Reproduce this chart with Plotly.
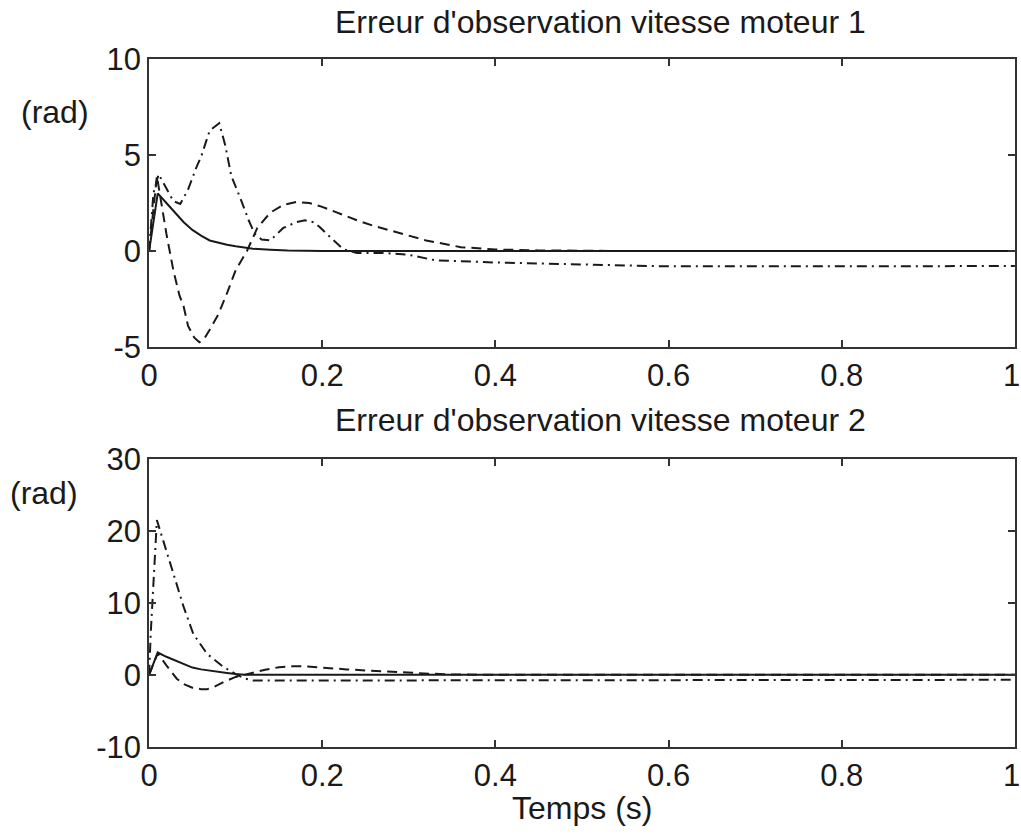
import plotly.graph_objects as go

# ---------------- data ----------------
# Top panel: motor 1 speed observation error
t1_solid = [0, 0.01, 0.02, 0.03, 0.04, 0.05, 0.06, 0.07, 0.08, 0.09, 0.10, 0.12, 0.14, 0.16, 0.20, 1.0]
y1_solid = [0, 3.0, 2.5, 2.0, 1.5, 1.1, 0.8, 0.55, 0.42, 0.33, 0.25, 0.12, 0.06, 0.02, 0.0, 0.0]

t1_dash = [0, 0.009, 0.02, 0.028, 0.035, 0.04, 0.045, 0.052, 0.058, 0.064, 0.07, 0.08, 0.09, 0.10,
           0.113, 0.125, 0.14, 0.155, 0.17, 0.185, 0.20, 0.22, 0.24, 0.26, 0.28, 0.30, 0.32, 0.34,
           0.36, 0.40, 0.45, 0.55, 0.65, 1.0]
y1_dash = [0, 3.9, 0.9, -1.0, -2.3, -2.9, -3.9, -4.5, -4.75, -4.55, -4.1, -3.3, -2.2, -1.0,
           0.0, 1.2, 2.0, 2.4, 2.55, 2.5, 2.3, 1.95, 1.6, 1.3, 1.05, 0.8, 0.55, 0.38,
           0.2, 0.08, 0.03, 0.0, 0.0, 0.0]

t1_dashdot = [0, 0.005, 0.011, 0.02, 0.028, 0.036, 0.045, 0.055, 0.06, 0.07, 0.081, 0.088, 0.095,
              0.105, 0.115, 0.122, 0.13, 0.14, 0.155, 0.17, 0.18, 0.19, 0.197, 0.205, 0.213,
              0.224, 0.24, 0.27, 0.30, 0.33, 0.40, 0.50, 0.60, 0.80, 1.0]
y1_dashdot = [0, 3.0, 4.0, 3.3, 2.6, 2.45, 3.2, 4.4, 4.9, 6.27, 6.65, 5.5, 3.9,
              2.8, 1.6, 0.9, 0.6, 0.55, 1.2, 1.5, 1.6, 1.5, 1.25, 0.9, 0.55,
              0.1, -0.1, -0.1, -0.2, -0.48, -0.6, -0.7, -0.8, -0.8, -0.78]

# Bottom panel: motor 2 speed observation error
t2_solid = [0, 0.01, 0.02, 0.03, 0.04, 0.05, 0.06, 0.07, 0.08, 0.09, 0.10, 0.11, 1.0]
y2_solid = [0, 3.1, 2.5, 2.0, 1.5, 1.0, 0.75, 0.55, 0.4, 0.25, 0.1, 0.0, 0.0]

t2_dash = [0, 0.01, 0.02, 0.032, 0.04, 0.05, 0.06, 0.067, 0.075, 0.086, 0.10, 0.115, 0.134,
           0.15, 0.165, 0.18, 0.205, 0.228, 0.25, 0.274, 0.30, 0.325, 0.35, 0.40, 1.0]
y2_dash = [0, 3.0, 1.3, -0.55, -1.3, -1.8, -2.0, -2.0, -1.7, -1.0, -0.3, 0.15, 0.7,
           1.05, 1.17, 1.17, 0.9, 0.75, 0.6, 0.45, 0.25, 0.15, 0.05, 0.0, 0.0]

t2_dashdot = [0, 0.002, 0.009, 0.0165, 0.028, 0.04, 0.051, 0.067, 0.086, 0.10, 0.11, 0.12,
              0.40, 0.70, 1.0]
y2_dashdot = [0, 6.0, 21.5, 18.7, 14.1, 9.4, 5.7, 2.9, 1.07, 0.1, -0.5, -0.8,
              -0.8, -0.75, -0.7]

x_tickvals = [0, 0.2, 0.4, 0.6, 0.8, 1]
x_ticktext = ["0", "0.2", "0.4", "0.6", "0.8", "1"]
y1_tickvals = [-5, 0, 5, 10]
y1_ticktext = ["-5", "0", "5", "10"]
y2_tickvals = [-10, 0, 10, 20, 30]
y2_ticktext = ["-10", "0", "10", "20", "30"]

title1 = "Erreur d'observation vitesse moteur 1"
title2 = "Erreur d'observation vitesse moteur 2"
ylabel = "(rad)"
xlabel = "Temps (s)"

# ---------------- figure ----------------
W, H = 1021, 834
FONT = "Arial, Liberation Sans, sans-serif"
INK = "#1a1a1a"
fs_tick = 31
fs_text = 32

fig = go.Figure()

def add_set(ts, ys, xa, ya, dash):
    fig.add_trace(go.Scatter(x=ts, y=ys, xaxis=xa, yaxis=ya, mode="lines",
                             line=dict(color=INK, width=2, dash=dash),
                             showlegend=False, hoverinfo="skip", cliponaxis=False))

add_set(t1_solid, y1_solid, "x", "y", "solid")
add_set(t1_dash, y1_dash, "x", "y", "10px,6px")
add_set(t1_dashdot, y1_dashdot, "x", "y", "10px,5px,2px,5px")
add_set(t2_solid, y2_solid, "x2", "y2", "solid")
add_set(t2_dash, y2_dash, "x2", "y2", "10px,6px")
add_set(t2_dashdot, y2_dashdot, "x2", "y2", "10px,5px,2px,5px")

x0, x1 = 149 / W, 1015 / W
top_dom = [1 - 347 / H, 1 - 59 / H]
bot_dom = [1 - 746.7 / H, 1 - 459 / H]

axis_common = dict(showline=True, linecolor="#333", linewidth=1.5, mirror="ticks",
                   ticks="inside", ticklen=7, tickwidth=1.5, tickcolor="#333",
                   showgrid=False, zeroline=False, automargin=False,
                   tickfont=dict(family=FONT, size=fs_tick, color=INK))

# the last x label ("1") sits at the page's right edge: it is drawn as an
# annotation tied to the x axis, nudged slightly left so it is not cut off
x_axis_text = x_ticktext[:-1] + [""]

xr = [-0.0001, 1.0001]
fig.update_layout(
    width=W, height=H, autosize=False,
    margin=dict(l=0, r=0, t=0, b=0),
    paper_bgcolor="white", plot_bgcolor="white",
    xaxis=dict(domain=[x0, x1], anchor="y", range=xr,
               tickvals=x_tickvals, ticktext=x_axis_text, **axis_common),
    yaxis=dict(domain=top_dom, anchor="x", range=[-5, 10],
               tickvals=y1_tickvals, ticktext=y1_ticktext, **axis_common),
    xaxis2=dict(domain=[x0, x1], anchor="y2", range=xr,
                tickvals=x_tickvals, ticktext=x_axis_text, **axis_common),
    yaxis2=dict(domain=bot_dom, anchor="x2", range=[-10, 30],
                tickvals=y2_tickvals, ticktext=y2_ticktext, **axis_common),
)

def text_at(txt, px, py, size=fs_text):
    fig.add_annotation(text=txt, x=px / W, y=1 - py / H, xref="paper", yref="paper",
                       showarrow=False, xanchor="center", yanchor="middle",
                       font=dict(family=FONT, size=size, color=INK))

text_at(title1, 600, 22)
text_at(title2, 600, 420)
text_at(ylabel, 55, 112)
text_at(ylabel, 44, 493)
text_at(xlabel, 582, 808)

for xref, py in (("x", 375), ("x2", 775)):
    fig.add_annotation(text=x_ticktext[-1], x=x_tickvals[-1], xref=xref,
                       y=1 - py / H, yref="paper", xshift=-3,
                       showarrow=False, xanchor="center", yanchor="middle",
                       font=dict(family=FONT, size=fs_tick, color=INK))

fig.write_html("out.html")
